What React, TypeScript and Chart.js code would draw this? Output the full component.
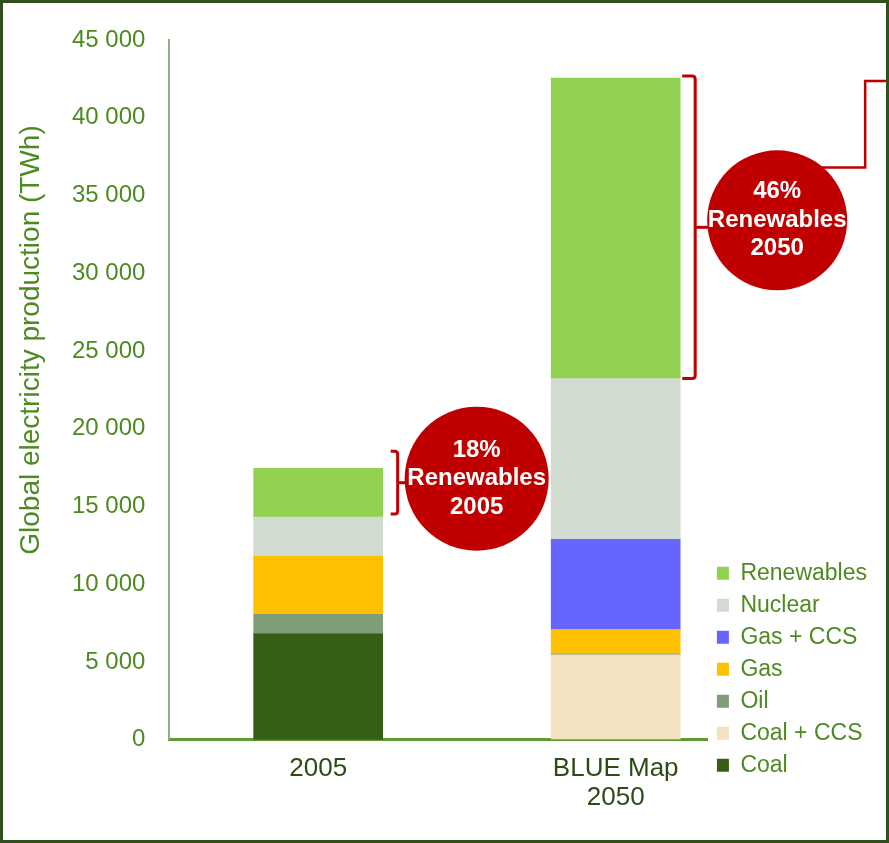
import React, { useEffect, useRef } from 'react';
import { Chart, registerables } from 'chart.js';

Chart.register(...registerables);

// ---- data ----
const categories: (string | string[])[] = ['2005', ['BLUE Map', '2050']];
const seriesNames = ['Coal', 'Coal + CCS', 'Oil', 'Gas', 'Gas + CCS', 'Nuclear', 'Renewables'];
const coal = [6830, 0];
const coalCCS = [0, 5460];
const oil = [1240, 60];
const gas = [3720, 1570];
const gasCCS = [0, 5800];
const nuclear = [2530, 10340];
const renewables = [3140, 19320];
const yMin = 0;
const yMax = 45000;
const yStep = 5000;
const yTitle = 'Global electricity production (TWh)';
const calloutLines = [
  ['18%', 'Renewables', '2005'],
  ['46%', 'Renewables', '2050'],
];

const seriesValues = [coal, coalCCS, oil, gas, gasCCS, nuclear, renewables];
const seriesColors = ['#365F15', '#F3E2C0', '#7F9E78', '#FFC000', '#6666FF', '#D1DBD0', '#92D050'];

const FONT = '"Liberation Sans", Arial, sans-serif';
const GREEN_TEXT = '#4E8A22';
const RED = '#C00000';

const fmt = (v: number) => String(v).replace(/\B(?=(\d{3})+(?!\d))/g, ' ');

// per-callout styling (pixel offsets relative to the renewables segment)
const calloutStyle = [
  { topAdj: -17, botAdj: -3, gap: 8, hook: 7, tip: 7, r: 72, dy: -4, connector: false },
  { topAdj: -2, botAdj: 0, gap: 2, hook: 13, tip: 12, r: 70, dy: -7, connector: true },
];

const legendPlacePlugin = {
  id: 'legendPlace',
  afterLayout(chart: any) {
    const lg = chart.legend;
    if (!lg) return;
    const h = lg.bottom - lg.top;
    lg.bottom = chart.chartArea.bottom + 46;
    lg.top = lg.bottom - h;
  },
};

const annotationPlugin = {
  id: 'annotations',
  afterDraw(chart: any) {
    const ctx = chart.ctx as CanvasRenderingContext2D;
    const renewMeta = chart.getDatasetMeta(seriesValues.length - 1);
    ctx.save();
    renewMeta.data.forEach((el: any, i: number) => {
      const st = calloutStyle[i];
      const p = el.getProps(['x', 'y', 'base', 'width'], true);
      const right = p.x + p.width / 2;
      const top = p.y + st.topAdj;
      const bottom = p.base + st.botAdj;
      const mid = (top + bottom) / 2;
      const x0 = right + st.gap;
      const x1 = x0 + st.hook;
      const tipX = x1 + st.tip;
      ctx.strokeStyle = RED;
      ctx.lineWidth = 3;
      ctx.lineJoin = 'round';
      ctx.beginPath();
      ctx.moveTo(x0, top);
      ctx.lineTo(x1 - 3, top);
      ctx.quadraticCurveTo(x1, top, x1, top + 3);
      ctx.lineTo(x1, bottom - 3);
      ctx.quadraticCurveTo(x1, bottom, x1 - 3, bottom);
      ctx.lineTo(x0, bottom);
      ctx.stroke();
      ctx.beginPath();
      ctx.moveTo(x1, mid);
      ctx.lineTo(tipX + 2, mid);
      ctx.stroke();

      const cx = tipX + st.r;
      const cy = mid + st.dy;
      if (st.connector) {
        const ang = (-49 * Math.PI) / 180;
        const sx = cx + st.r * Math.cos(ang);
        const sy = cy + st.r * Math.sin(ang);
        const vx = cx + 88;
        ctx.lineWidth = 2.5;
        ctx.lineJoin = 'miter';
        ctx.beginPath();
        ctx.moveTo(sx - 4, sy);
        ctx.lineTo(vx, sy);
        ctx.lineTo(vx, p.y + 3);
        ctx.lineTo(chart.width, p.y + 3);
        ctx.stroke();
      }
      ctx.fillStyle = RED;
      ctx.beginPath();
      ctx.arc(cx, cy, st.r, 0, Math.PI * 2);
      ctx.fill();

      ctx.fillStyle = '#FFFFFF';
      ctx.font = `bold 24px ${FONT}`;
      ctx.textAlign = 'center';
      ctx.textBaseline = 'middle';
      const lines = calloutLines[i];
      const lh = 28.5;
      lines.forEach((t, k) => {
        ctx.fillText(t, cx, cy + (k - (lines.length - 1) / 2) * lh);
      });
    });

    // y-axis title
    ctx.save();
    ctx.translate(31, 340);
    ctx.rotate(-Math.PI / 2);
    ctx.fillStyle = GREEN_TEXT;
    ctx.font = `28px ${FONT}`;
    ctx.textAlign = 'center';
    ctx.textBaseline = 'middle';
    ctx.fillText(yTitle, 0, 0);
    ctx.restore();

    // outer frame
    ctx.strokeStyle = '#2F4F1B';
    ctx.lineWidth = 3;
    ctx.strokeRect(1.5, 1.5, chart.width - 3, chart.height - 3);
    ctx.restore();
  },
};

export default function App() {
  const ref = useRef<HTMLCanvasElement | null>(null);

  useEffect(() => {
    if (!ref.current) return;
    const chart = new Chart(ref.current, {
      type: 'bar',
      data: {
        datasets: seriesNames.map((name, si) => ({
          label: name,
          data: seriesValues[si].map((v, ci) => ({ x: ci, y: v })),
          backgroundColor: seriesColors[si],
          borderWidth: 0,
          barThickness: 129,
        })),
      },
      options: {
        animation: false,
        responsive: false,
        maintainAspectRatio: false,
        layout: { padding: { left: 48, top: 40, right: 12, bottom: 16 } },
        plugins: {
          legend: {
            position: 'right',
            align: 'end',
            reverse: true,
            labels: {
              boxWidth: 12,
              boxHeight: 13,
              padding: 9,
              color: GREEN_TEXT,
              font: { family: FONT, size: 23 },
            },
          },
          tooltip: { enabled: false },
        },
        scales: {
          x: {
            type: 'linear',
            stacked: true,
            offset: false,
            min: -0.5,
            max: 1.31,
            grid: { display: false, drawTicks: false },
            border: { display: true, color: '#5E9B33', width: 3 },
            afterBuildTicks: (scale: any) => {
              scale.ticks = categories.map((_, i) => ({ value: i }));
            },
            ticks: {
              padding: 15,
              color: '#2D4B17',
              font: { family: FONT, size: 26, lineHeight: 1.1 },
              maxRotation: 0,
              autoSkip: false,
              callback: (v: any) => categories[Math.round(Number(v))] as any,
            },
          },
          y: {
            stacked: true,
            min: yMin,
            max: yMax,
            grid: { display: false, drawTicks: false },
            border: { display: true, color: '#8DAE7E', width: 2 },
            ticks: {
              stepSize: yStep,
              padding: 24,
              color: GREEN_TEXT,
              font: { family: FONT, size: 24 },
              callback: (v: any) => fmt(Number(v)),
            },
          },
        },
      } as any,
      plugins: [legendPlacePlugin, annotationPlugin],
    });
    return () => chart.destroy();
  }, []);

  return (
    <div style={{ position: 'absolute', left: 0, top: 0, width: 889, height: 843, background: '#fff' }}>
      <canvas ref={ref} width={889} height={843} style={{ display: 'block', width: 889, height: 843 }} />
    </div>
  );
}
